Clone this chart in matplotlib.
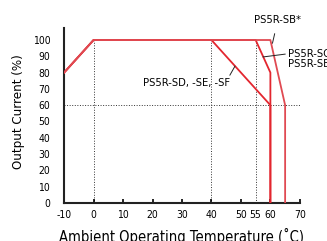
import matplotlib
matplotlib.use("Agg")
import matplotlib.pyplot as plt

plt.rcParams['font.family'] = ['DejaVu Sans']
plt.rcParams['font.stretch'] = 'condensed'

# derating curves: (temperature, output current %)
sd_temp = [-10, 0, 40, 60, 60]
sd_curr = [80, 100, 100, 60, 0]
sc_temp = [-10, 0, 55, 60, 60]
sc_curr = [80, 100, 100, 80, 0]
sb_temp = [-10, 0, 60, 65, 65]
sb_curr = [80, 100, 100, 60, 0]

guide_x = [0, 40, 55]
guide_y = 60

xticks = [-10, 0, 10, 20, 30, 40, 50, 55, 60, 70]
yticks = list(range(0, 101, 10))

red = '#e3262f'

fig = plt.figure(figsize=(3.27, 2.41), dpi=100)
ax = fig.add_axes([0.196, 0.158, 0.721, 0.726])

for gx in guide_x:
    ax.plot([gx, gx], [0, 100], color='#333333', ls=':', lw=0.7, zorder=1)
ax.plot([-10, 70], [guide_y, guide_y], color='#333333', ls=':', lw=0.7, zorder=1)

ax.plot(sd_temp, sd_curr, color=red, lw=1.3, zorder=3)
ax.plot(sc_temp, sc_curr, color=red, lw=1.3, zorder=3)
ax.plot(sb_temp, sb_curr, color='#e04a52', lw=1.3, zorder=3)

ax.set_xlim(-10, 70)
ax.set_ylim(0, 107.4)
ax.set_xticks(xticks)
ax.set_xticklabels([str(t) for t in xticks])
ax.set_yticks(yticks)
ax.tick_params(axis='x', direction='in', length=3, width=1.2, pad=5, labelsize=7.5)
ax.tick_params(axis='y', length=0, pad=10, labelsize=7.5)
for t, v in zip(ax.xaxis.get_major_ticks(), xticks):
    if v in (-10, 55):
        t.tick1line.set_visible(False)

for s in ['top', 'right']:
    ax.spines[s].set_visible(False)
for s in ['left', 'bottom']:
    ax.spines[s].set_linewidth(1.5)
    ax.spines[s].set_color('#222222')

ax.set_xlabel('Ambient Operating Temperature (˚C)', fontsize=10.5)
ax.xaxis.set_label_coords(0.5, -0.145)
ax.set_ylabel('Output Current (%)', fontsize=9.5)
ax.yaxis.set_label_coords(-0.165, 0.52)

# labels with leader lines
ax.annotate('PS5R-SB*', xy=(60.7, 98), xytext=(62.5, 112), fontsize=8,
            ha='center', va='center', annotation_clip=False,
            arrowprops=dict(arrowstyle='-', color='#222222', lw=0.7, shrinkA=4, shrinkB=0))
ax.annotate('PS5R-SC\nPS5R-SB', xy=(57.5, 89.6), xytext=(66.0, 88.5), fontsize=8,
            ha='left', va='center', linespacing=1.0, annotation_clip=False,
            arrowprops=dict(arrowstyle='-', color='#222222', lw=0.7, shrinkA=0, shrinkB=0,
                            relpos=(0, 0.75)))
ax.annotate('PS5R-SD, -SE, -SF', xy=(48, 84), xytext=(46.4, 73.6), fontsize=8,
            ha='right', va='center', annotation_clip=False,
            arrowprops=dict(arrowstyle='-', color='#222222', lw=0.7, shrinkA=0, shrinkB=0,
                            relpos=(0.97, 0.9)))

fig.savefig('out.png', dpi=100)
